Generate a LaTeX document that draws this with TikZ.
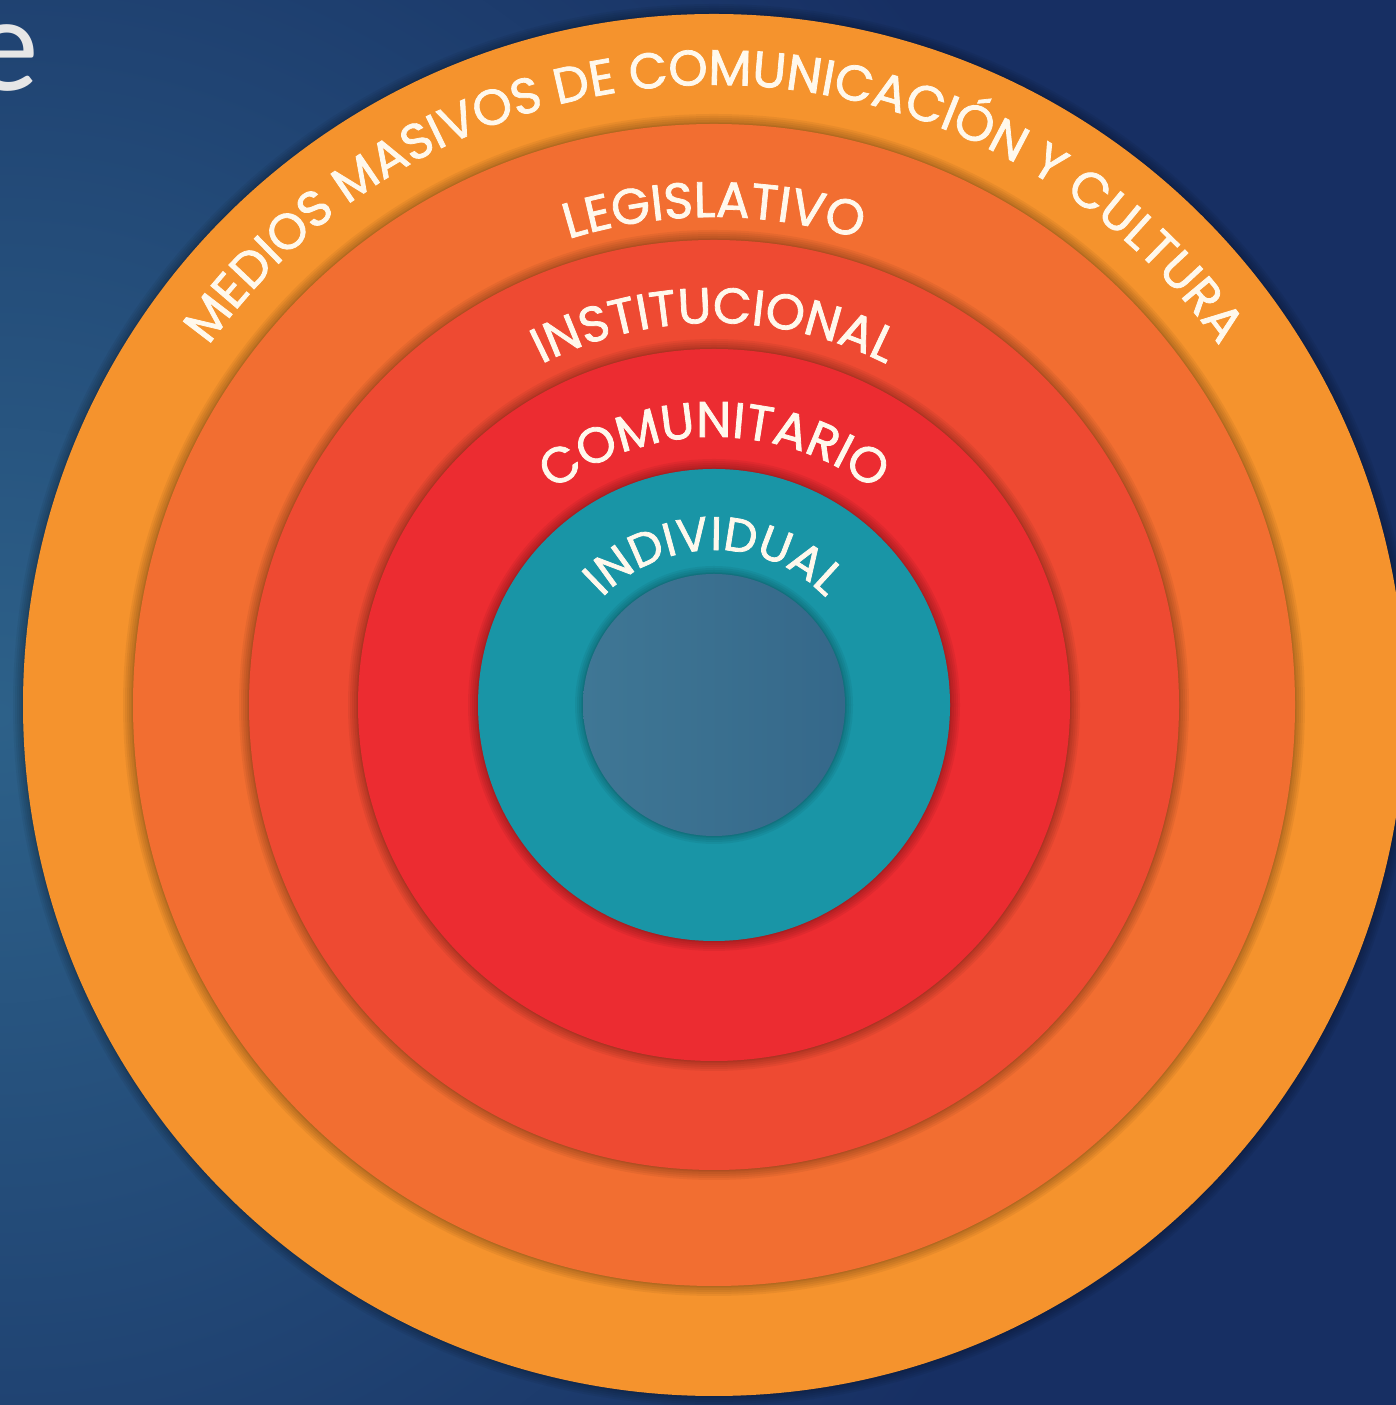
\documentclass[tikz,border=0pt]{standalone}
\usepackage{fontspec}
\newfontfamily\ringfont{Poppins}[FakeBold=1.6]
\newfontfamily\efont{Lato}
\usetikzlibrary{decorations.text}
\definecolor{bgL}{HTML}{2D6189}
\definecolor{bgR}{HTML}{172F63}
\definecolor{ringA}{HTML}{F5932D}
\definecolor{ringB}{HTML}{F26E31}
\definecolor{ringC}{HTML}{EE4A32}
\definecolor{ringD}{HTML}{EC2C31}
\definecolor{ringE}{HTML}{1995A6}
\definecolor{coreL}{HTML}{3F7795}
\definecolor{coreR}{HTML}{35688A}
\definecolor{labelc}{HTML}{FFF8EC}
\definecolor{etext}{HTML}{E6E6E6}
\newcommand{\ringtxt}{\ringfont\fontsize{50}{60}\selectfont}
\newcommand{\ringtxtsmall}{\ringfont\fontsize{47}{56}\selectfont}
\begin{document}
\begin{tikzpicture}[x=1pt,y=1pt,
  ringshadow/.style={black, opacity=0.05},
  ringlabel/.style={decorate, decoration={text along path, text align=center, text color=labelc, text={#1}}}
]
\useasboundingbox (0,0) rectangle (1396,1405);
% background
\fill[bgR] (0,0) rectangle (1396,1405);
\begin{scope}
  \clip (0,0) rectangle (1396,1405);
  \shade[inner color=bgL, outer color=bgR] (0,690) circle[radius=1150];
\end{scope}
\coordinate (C) at (714,700);
% title fragment
\node[anchor=base east, inner sep=0pt, text=etext, font=\efont\fontsize{128}{130}\selectfont] (etitle) at (39,1314) {e};
% rings with soft shadows
\foreach \r/\col in {691/ringA,581/ringB,465/ringC,356/ringD,236/ringE}{
  \foreach \d in {10,8,6,4,2,1}{
    \fill[ringshadow] (C) circle[radius=\r+\d];
  }
  \fill[\col] (C) circle[radius=\r];
}
\foreach \d in {8,6,4,2,1}{
  \fill[ringshadow] (C) circle[radius=131+\d];
}
\shade[left color=coreL, right color=coreR] (C) circle[radius=131];
% labels
\path[ringlabel={|\ringtxt|MEDIOS MASIVOS DE COMUNICACIÓN Y CULTURA}] ([shift={(C)}]180:620) arc[start angle=180, end angle=0, radius=620];
\path[ringlabel={|\ringtxt|LEGISLATIVO}] ([shift={(C)}]180:488) arc[start angle=180, end angle=0, radius=488];
\path[ringlabel={|\ringtxt|INSTITUCIONAL}] ([shift={(C)}]180:382) arc[start angle=180, end angle=0, radius=382];
\path[ringlabel={|\ringtxt|COMUNITARIO}] ([shift={(C)}]180:268) arc[start angle=180, end angle=0, radius=268];
\path[ringlabel={|\ringtxtsmall|INDIVIDUAL}] ([shift={(C)}]180:155) arc[start angle=180, end angle=0, radius=155];
\end{tikzpicture}
\end{document}
